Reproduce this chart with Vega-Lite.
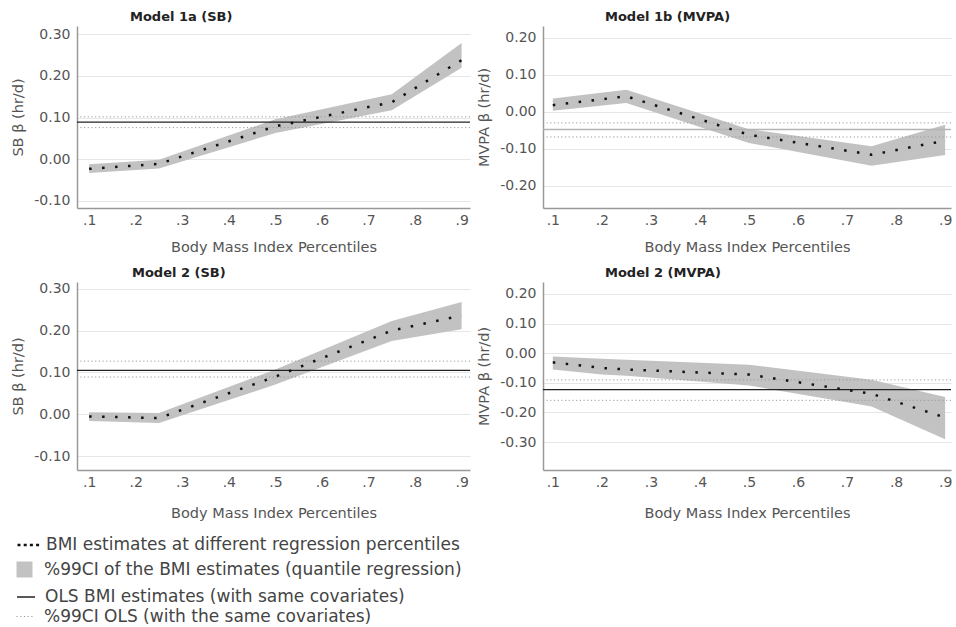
{
  "$schema": "https://vega.github.io/schema/vega-lite/v6.json",
  "padding": {"left": 10, "top": 11, "right": 0, "bottom": 0},
  "background": "white",
  "datasets": {
    "qr": [
      {"model": "m1a", "p": 0.1, "est": -0.023, "lo": -0.033, "hi": -0.012},
      {"model": "m1a", "p": 0.25, "est": -0.011, "lo": -0.022, "hi": -0.001},
      {"model": "m1a", "p": 0.5, "est": 0.079, "lo": 0.063, "hi": 0.096},
      {"model": "m1a", "p": 0.75, "est": 0.137, "lo": 0.118, "hi": 0.156},
      {"model": "m1a", "p": 0.9, "est": 0.238, "lo": 0.22, "hi": 0.279},
      {"model": "m1b", "p": 0.1, "est": 0.018, "lo": 0.003, "hi": 0.036},
      {"model": "m1b", "p": 0.25, "est": 0.042, "lo": 0.024, "hi": 0.06},
      {"model": "m1b", "p": 0.5, "est": -0.062, "lo": -0.084, "hi": -0.047},
      {"model": "m1b", "p": 0.75, "est": -0.116, "lo": -0.146, "hi": -0.093},
      {"model": "m1b", "p": 0.9, "est": -0.078, "lo": -0.117, "hi": -0.035},
      {"model": "m2sb", "p": 0.1, "est": -0.005, "lo": -0.016, "hi": 0.005},
      {"model": "m2sb", "p": 0.25, "est": -0.009, "lo": -0.021, "hi": 0.003},
      {"model": "m2sb", "p": 0.5, "est": 0.09, "lo": 0.071, "hi": 0.107},
      {"model": "m2sb", "p": 0.75, "est": 0.2, "lo": 0.175, "hi": 0.223},
      {"model": "m2sb", "p": 0.9, "est": 0.236, "lo": 0.203, "hi": 0.268},
      {"model": "m2mv", "p": 0.1, "est": -0.031, "lo": -0.055, "hi": -0.011},
      {"model": "m2mv", "p": 0.2, "est": -0.05, "lo": -0.072, "hi": -0.019},
      {"model": "m2mv", "p": 0.25, "est": -0.055, "lo": -0.076, "hi": -0.022},
      {"model": "m2mv", "p": 0.5, "est": -0.072, "lo": -0.109, "hi": -0.039},
      {"model": "m2mv", "p": 0.75, "est": -0.137, "lo": -0.18, "hi": -0.09},
      {"model": "m2mv", "p": 0.9, "est": -0.217, "lo": -0.29, "hi": -0.148}
    ],
    "ols": [
      {"model": "m1a", "ols": 0.089, "lo": 0.076, "hi": 0.102},
      {"model": "m1b", "ols": -0.048, "lo": -0.068, "hi": -0.03},
      {"model": "m2sb", "ols": 0.105, "lo": 0.089, "hi": 0.127},
      {"model": "m2mv", "ols": -0.123, "lo": -0.159, "hi": -0.09}
    ]
  },
  "columns": 2,
  "spacing": {"row": 12, "column": 5},
  "concat": [
    {
      "title": {"text": "Model 1a (SB)", "dx": 53},
      "width": 393, "height": 182,
      "layer": [
        {
          "data": {"name": "qr"},
          "transform": [{"filter": "datum.model === 'm1a'"}],
          "mark": {"type": "area", "color": "#c2c2c2"},
          "encoding": {
            "x": {"field": "p", "type": "quantitative", "scale": {"domain": [0.074, 0.918], "nice": false, "zero": false},
                  "axis": {"title": "Body Mass Index Percentiles", "titlePadding": 13, "values": [0.1,0.2,0.3,0.4,0.5,0.6,0.7,0.8,0.9], "labelExpr": "replace(format(datum.value, '.1f'), '0.', '.')"}},
            "y": {"field": "lo", "type": "quantitative", "scale": {"domain": [-0.117, 0.32], "nice": false, "zero": false},
                  "axis": {"title": "SB β (hr/d)", "values": [-0.1, 0, 0.1, 0.2, 0.3], "labelExpr": "(datum.value < -0.0001 ? '-' : '') + format(abs(datum.value), '.2f')"}},
            "y2": {"field": "hi"}
          }
        },
        {
          "data": {"name": "ols"},
          "transform": [{"filter": "datum.model === 'm1a'"}, {"fold": ["lo", "hi"], "as": ["bound", "value"]}],
          "mark": {"type": "rule", "color": "#999", "strokeDash": [1.2, 2.5], "strokeWidth": 1},
          "encoding": {"y": {"field": "value", "type": "quantitative"}}
        },
        {
          "data": {"name": "ols"},
          "transform": [{"filter": "datum.model === 'm1a'"}],
          "mark": {"type": "rule", "color": "#222", "strokeWidth": 1.3},
          "encoding": {"y": {"field": "ols", "type": "quantitative"}}
        },
        {
          "data": {"name": "qr"},
          "transform": [{"filter": "datum.model === 'm1a'"}],
          "mark": {"type": "line", "color": "#111", "strokeWidth": 2.5, "strokeDash": [2.5, 10.5]},
          "encoding": {
            "x": {"field": "p", "type": "quantitative"},
            "y": {"field": "est", "type": "quantitative"}
          }
        }
      ]
    },
    {
      "title": {"text": "Model 1b (MVPA)", "dx": 62},
      "width": 408, "height": 182,
      "layer": [
        {
          "data": {"name": "qr"},
          "transform": [{"filter": "datum.model === 'm1b'"}],
          "mark": {"type": "area", "color": "#c2c2c2"},
          "encoding": {
            "x": {"field": "p", "type": "quantitative", "scale": {"domain": [0.08, 0.912], "nice": false, "zero": false},
                  "axis": {"title": "Body Mass Index Percentiles", "titlePadding": 13, "values": [0.1,0.2,0.3,0.4,0.5,0.6,0.7,0.8,0.9], "labelExpr": "replace(format(datum.value, '.1f'), '0.', '.')"}},
            "y": {"field": "lo", "type": "quantitative", "scale": {"domain": [-0.26, 0.232], "nice": false, "zero": false},
                  "axis": {"title": "MVPA β (hr/d)", "values": [-0.2, -0.1, 0, 0.1, 0.2], "labelExpr": "(datum.value < -0.0001 ? '-' : '') + format(abs(datum.value), '.2f')"}},
            "y2": {"field": "hi"}
          }
        },
        {
          "data": {"name": "ols"},
          "transform": [{"filter": "datum.model === 'm1b'"}, {"fold": ["lo", "hi"], "as": ["bound", "value"]}],
          "mark": {"type": "rule", "color": "#999", "strokeDash": [1.2, 2.5], "strokeWidth": 1},
          "encoding": {"y": {"field": "value", "type": "quantitative"}}
        },
        {
          "data": {"name": "ols"},
          "transform": [{"filter": "datum.model === 'm1b'"}],
          "mark": {"type": "rule", "color": "#b4b4b4", "strokeWidth": 1.5},
          "encoding": {"y": {"field": "ols", "type": "quantitative"}}
        },
        {
          "data": {"name": "qr"},
          "transform": [{"filter": "datum.model === 'm1b'"}],
          "mark": {"type": "line", "color": "#111", "strokeWidth": 2.5, "strokeDash": [2.5, 10.5]},
          "encoding": {
            "x": {"field": "p", "type": "quantitative"},
            "y": {"field": "est", "type": "quantitative"}
          }
        }
      ]
    },
    {
      "title": {"text": "Model 2 (SB)", "dx": 55},
      "width": 393, "height": 188,
      "resolve": {"scale": {"color": "independent"}, "legend": {"color": "independent"}},
      "layer": [
        {
          "data": {"name": "qr"},
          "transform": [{"filter": "datum.model === 'm2sb'"}],
          "mark": {"type": "area", "color": "#c2c2c2"},
          "encoding": {
            "x": {"field": "p", "type": "quantitative", "scale": {"domain": [0.074, 0.918], "nice": false, "zero": false},
                  "axis": {"title": "Body Mass Index Percentiles", "titlePadding": 17, "values": [0.1,0.2,0.3,0.4,0.5,0.6,0.7,0.8,0.9], "labelExpr": "replace(format(datum.value, '.1f'), '0.', '.')"}},
            "y": {"field": "lo", "type": "quantitative", "scale": {"domain": [-0.133, 0.316], "nice": false, "zero": false},
                  "axis": {"title": "SB β (hr/d)", "values": [-0.1, 0, 0.1, 0.2, 0.3], "labelExpr": "(datum.value < -0.0001 ? '-' : '') + format(abs(datum.value), '.2f')"}},
            "y2": {"field": "hi"}
          }
        },
        {
          "data": {"name": "ols"},
          "transform": [{"filter": "datum.model === 'm2sb'"}, {"fold": ["lo", "hi"], "as": ["bound", "value"]}],
          "mark": {"type": "rule", "color": "#999", "strokeDash": [1.2, 2.5], "strokeWidth": 1},
          "encoding": {"y": {"field": "value", "type": "quantitative"}}
        },
        {
          "data": {"name": "ols"},
          "transform": [{"filter": "datum.model === 'm2sb'"}],
          "mark": {"type": "rule", "color": "#222", "strokeWidth": 1.3},
          "encoding": {"y": {"field": "ols", "type": "quantitative"}}
        },
        {
          "data": {"name": "qr"},
          "transform": [{"filter": "datum.model === 'm2sb'"}],
          "mark": {"type": "line", "color": "#111", "strokeWidth": 2.5, "strokeDash": [2.5, 10.5]},
          "encoding": {
            "x": {"field": "p", "type": "quantitative"},
            "y": {"field": "est", "type": "quantitative"}
          }
        },
        {
          "data": {"name": "ols"},
          "transform": [{"filter": "datum.model === 'm2sb'"}],
          "mark": {"type": "rule", "clip": true, "strokeDash": [3, 3.2], "strokeWidth": 2.5},
          "encoding": {
            "y": {"datum": 5, "type": "quantitative"},
            "color": {"datum": "BMI estimates at different regression percentiles", "type": "nominal", "scale": {"range": ["#111111"]},
              "legend": {"title": null, "orient": "none", "legendX": -61, "legendY": 250, "symbolType": "stroke", "symbolSize": 529, "symbolStrokeWidth": 2.5, "symbolDash": [3, 3.2], "symbolOpacity": 1, "labelOffset": 4, "labelFont": "DejaVu Sans", "labelFontSize": 17, "labelColor": "#444", "labelLimit": 600}}
          }
        },
        {
          "data": {"name": "ols"},
          "transform": [{"filter": "datum.model === 'm2sb'"}],
          "mark": {"type": "square", "clip": true, "size": 256},
          "encoding": {
            "y": {"datum": 5, "type": "quantitative"},
            "color": {"datum": "%99CI of the BMI estimates (quantile regression)", "type": "nominal", "scale": {"range": ["#c2c2c2"]},
              "legend": {"title": null, "orient": "none", "legendX": -61, "legendY": 279, "symbolType": "square", "symbolSize": 256, "symbolOpacity": 1, "symbolStrokeWidth": 0, "labelOffset": 11, "labelFont": "DejaVu Sans", "labelFontSize": 17, "labelColor": "#444", "labelLimit": 600}}
          }
        },
        {
          "data": {"name": "ols"},
          "transform": [{"filter": "datum.model === 'm2sb'"}],
          "mark": {"type": "rule", "clip": true, "strokeWidth": 1.5},
          "encoding": {
            "y": {"datum": 5, "type": "quantitative"},
            "color": {"datum": "OLS BMI estimates (with same covariates)", "type": "nominal", "scale": {"range": ["#222222"]},
              "legend": {"title": null, "orient": "none", "legendX": -61, "legendY": 305, "symbolType": "stroke", "symbolSize": 324, "symbolStrokeWidth": 1.5, "symbolOpacity": 1, "labelOffset": 9, "labelFont": "DejaVu Sans", "labelFontSize": 17, "labelColor": "#444", "labelLimit": 600}}
          }
        },
        {
          "data": {"name": "ols"},
          "transform": [{"filter": "datum.model === 'm2sb'"}],
          "mark": {"type": "rule", "clip": true, "strokeDash": [1.2, 2.5], "strokeWidth": 1},
          "encoding": {
            "y": {"datum": 5, "type": "quantitative"},
            "color": {"datum": "%99CI OLS (with the same covariates)", "type": "nominal", "scale": {"range": ["#999999"]},
              "legend": {"title": null, "orient": "none", "legendX": -61, "legendY": 325, "symbolType": "stroke", "symbolSize": 324, "symbolStrokeWidth": 1, "symbolDash": [1.2, 2.5], "symbolOpacity": 1, "labelOffset": 9, "labelFont": "DejaVu Sans", "labelFontSize": 17, "labelColor": "#444", "labelLimit": 600}}
          }
        }
      ]
    },
    {
      "title": {"text": "Model 2 (MVPA)", "dx": 62},
      "width": 408, "height": 188,
      "layer": [
        {
          "data": {"name": "qr"},
          "transform": [{"filter": "datum.model === 'm2mv'"}],
          "mark": {"type": "area", "color": "#c2c2c2"},
          "encoding": {
            "x": {"field": "p", "type": "quantitative", "scale": {"domain": [0.08, 0.912], "nice": false, "zero": false},
                  "axis": {"title": "Body Mass Index Percentiles", "titlePadding": 17, "values": [0.1,0.2,0.3,0.4,0.5,0.6,0.7,0.8,0.9], "labelExpr": "replace(format(datum.value, '.1f'), '0.', '.')"}},
            "y": {"field": "lo", "type": "quantitative", "scale": {"domain": [-0.394, 0.24], "nice": false, "zero": false},
                  "axis": {"title": "MVPA β (hr/d)", "values": [-0.3, -0.2, -0.1, 0, 0.1, 0.2], "labelExpr": "(datum.value < -0.0001 ? '-' : '') + format(abs(datum.value), '.2f')"}},
            "y2": {"field": "hi"}
          }
        },
        {
          "data": {"name": "ols"},
          "transform": [{"filter": "datum.model === 'm2mv'"}, {"fold": ["lo", "hi"], "as": ["bound", "value"]}],
          "mark": {"type": "rule", "color": "#999", "strokeDash": [1.2, 2.5], "strokeWidth": 1},
          "encoding": {"y": {"field": "value", "type": "quantitative"}}
        },
        {
          "data": {"name": "ols"},
          "transform": [{"filter": "datum.model === 'm2mv'"}],
          "mark": {"type": "rule", "color": "#222", "strokeWidth": 1.3},
          "encoding": {"y": {"field": "ols", "type": "quantitative"}}
        },
        {
          "data": {"name": "qr"},
          "transform": [{"filter": "datum.model === 'm2mv'"}],
          "mark": {"type": "line", "color": "#111", "strokeWidth": 2.5, "strokeDash": [2.5, 10.5]},
          "encoding": {
            "x": {"field": "p", "type": "quantitative"},
            "y": {"field": "est", "type": "quantitative"}
          }
        }
      ]
    }
  ],
  "config": {
    "view": {"stroke": null},
    "title": {"font": "DejaVu Sans", "fontSize": 13, "fontWeight": "bold", "color": "#222", "anchor": "start", "frame": "group", "offset": 2},
    "axis": {
      "labelFont": "DejaVu Sans", "labelFontSize": 14, "labelColor": "#555",
      "titleFont": "DejaVu Sans", "titleFontSize": 14.5, "titleColor": "#555", "titleFontWeight": "normal",
      "ticks": false, "domainColor": "#999", "domainWidth": 1.5, "gridColor": "#e6e6e6", "labelOverlap": false, "tickCount": 12
    },
    "axisX": {"grid": false, "labelPadding": 5},
    "axisY": {"labelPadding": 7, "titlePadding": 8}
  }
}
